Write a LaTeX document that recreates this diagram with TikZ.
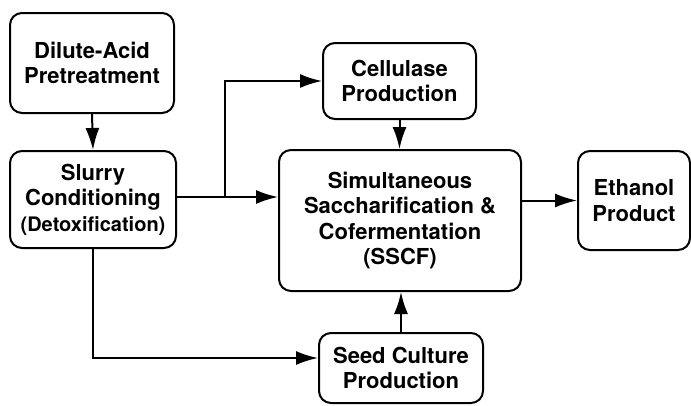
\documentclass[tikz,border=0pt]{standalone}
\usepackage{fontspec}
\setmainfont{TeX Gyre Heros}
\usepackage{tikz}
\usetikzlibrary{calc}
\usetikzlibrary{arrows.meta, positioning}
\tikzset{
  unitbox/.style={% Style for the process boxes
      rectangle, rounded corners=12pt,
      line width=2pt,
      align=center,
      draw=black,
      font=\bfseries\fontsize{22}{25.5}\selectfont,
      inner sep=2pt,
  },
  flow/.style={% Style for the connectors
      line width=2pt,
      -{Latex[length=22pt,width=14pt]},
  }
}
\begin{document}
\begin{tikzpicture}[x=1pt,y=-1pt]
    \useasboundingbox (0,0) rectangle (691,405);
    % process boxes
    \node[unitbox, minimum width=164pt, minimum height=100pt] (dilute) at (92,63) {Dilute-Acid\\Pretreatment};
    \node[unitbox, minimum width=166pt, minimum height=97pt] (slurry) at (93,199.5)
      {Slurry\\Conditioning\\{\fontsize{20}{24}\selectfont(Detoxification)}};
    \node[unitbox, minimum width=153pt, minimum height=76pt] (cellulase) at (399.5,81) {Cellulase\\Production};
    \node[unitbox, minimum width=242pt, minimum height=141pt] (sscf) at (400,220.5)
      {Simultaneous\\Saccharification \&\\Cofermentation\\(SSCF)};
    \node[unitbox, minimum width=112pt, minimum height=99pt] (ethanol) at (634,200.5) {Ethanol\\Product};
    \node[unitbox, minimum width=164pt, minimum height=70pt] (seed) at (401,368) {Seed Culture\\Production};
    % connectors
    \coordinate (branch) at (225,197);
    \draw[flow] (dilute.south) -- (slurry.north);
    \draw[flow] (slurry.east |- branch) -- (branch -| sscf.west);
    \draw[flow] (branch) |- (cellulase.west);
    \draw[flow] (cellulase.south) -- (cellulase.south |- sscf.north);
    \draw[flow] (ethanol.west -| sscf.east) -- (ethanol.west);
    \draw[flow] (seed.north) -- (seed.north |- sscf.south);
    \draw[flow] (slurry.south) |- ([yshift=10pt]seed.west);
\end{tikzpicture}
\end{document}
